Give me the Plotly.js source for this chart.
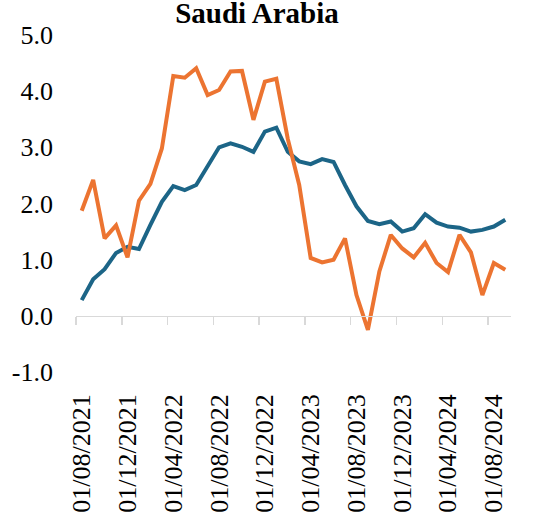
<!DOCTYPE html>
<html><head><meta charset="utf-8">
<script src="https://cdn.plot.ly/plotly-3.0.1.min.js"></script>
<style>html,body{margin:0;padding:0;background:#fff}#chart{width:548px;height:520px}</style>
</head><body><div id="chart"></div>
<script>
const months = ["01/08/2021","01/09/2021","01/10/2021","01/11/2021","01/12/2021","01/01/2022","01/02/2022","01/03/2022",
"01/04/2022","01/05/2022","01/06/2022","01/07/2022","01/08/2022","01/09/2022","01/10/2022","01/11/2022",
"01/12/2022","01/01/2023","01/02/2023","01/03/2023","01/04/2023","01/05/2023","01/06/2023","01/07/2023",
"01/08/2023","01/09/2023","01/10/2023","01/11/2023","01/12/2023","01/01/2024","01/02/2024","01/03/2024",
"01/04/2024","01/05/2024","01/06/2024","01/07/2024","01/08/2024","01/09/2024"];
const tickLabels = ["01/08/2021","01/12/2021","01/04/2022","01/08/2022","01/12/2022","01/04/2023","01/08/2023","01/12/2023","01/04/2024","01/08/2024"];
const seriesBlue = [0.28,0.65,0.83,1.12,1.23,1.19,1.62,2.03,2.31,2.24,2.33,2.67,3.00,3.07,3.01,2.92,3.28,3.35,2.92,2.75,2.70,2.79,2.74,2.33,1.95,1.69,1.63,1.68,1.50,1.56,1.81,1.66,1.59,1.57,1.50,1.53,1.59,1.71];
const seriesOrange = [1.87,2.42,1.38,1.61,1.04,2.05,2.35,2.98,4.27,4.24,4.41,3.93,4.02,4.35,4.36,3.49,4.17,4.22,3.15,2.33,1.03,0.95,1.00,1.38,0.37,-0.25,0.79,1.44,1.20,1.04,1.30,0.94,0.78,1.44,1.13,0.37,0.94,0.82];
const yTicks = [-1,0,1,2,3,4,5];
const yTickText = ["-1.0","0.0","1.0","2.0","3.0","4.0","5.0"];

const idx = months.map((m,i)=>i);
const labelPos = tickLabels.map(t => months.indexOf(t));
const boundaryPos = labelPos.map(p => p - 0.5);
const xRange = [-0.5, months.length - 0.5];

const traces = [
  {x: idx, y: seriesBlue, type:'scatter', mode:'lines', xaxis:'x', yaxis:'y',
   line:{color:'#1c6587', width:4}, hoverinfo:'skip'},
  {x: idx, y: seriesOrange, type:'scatter', mode:'lines', xaxis:'x2', yaxis:'y',
   line:{color:'#ec7431', width:4}, hoverinfo:'skip'}
];
const serif = 'Liberation Serif, Times New Roman, serif';
const tickFont = {family:serif, size:26, color:'#000'};
const layout = {
  width:548, height:520,
  margin:{l:76, r:36.5, t:35, b:148, pad:0},
  paper_bgcolor:'#fff', plot_bgcolor:'#fff',
  showlegend:false,
  title:{text:'<b>Saudi Arabia</b>', font:{family:serif, size:29, color:'#000'},
         x:257/548, xanchor:'center', xref:'container', y:1-13/520, yanchor:'middle', yref:'container'},
  xaxis:{range:xRange, tickmode:'array', tickvals:labelPos, ticktext:tickLabels, tickangle:-90,
         showline:false, ticks:'', showgrid:false, zeroline:false, tickfont:tickFont, ticklabelstandoff:16},
  xaxis2:{range:xRange, overlaying:'x', anchor:'free', position:1/6, tickmode:'array', tickvals:boundaryPos,
          ticks:'outside', ticklen:8, tickwidth:1.5, tickcolor:'#d9d9d9', showline:true, linecolor:'#d9d9d9', linewidth:1.5,
          showticklabels:false, showgrid:false, zeroline:false},
  yaxis:{range:[-1,5], tickmode:'array', tickvals:yTicks, ticktext:yTickText, showline:false, ticks:'',
         showgrid:false, zeroline:false, tickfont:tickFont, ticklabelstandoff:22}
};
Plotly.newPlot('chart', traces, layout, {staticPlot:true, displayModeBar:false});
</script></body></html>
